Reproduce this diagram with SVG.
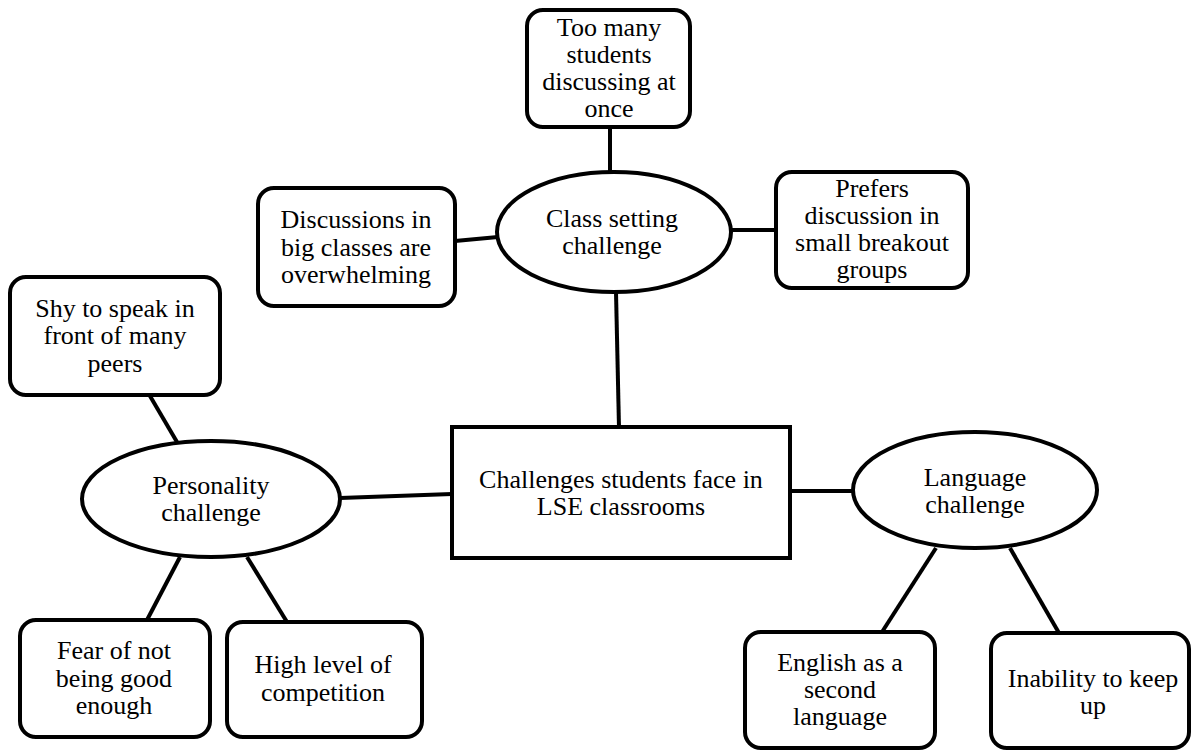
<svg xmlns="http://www.w3.org/2000/svg" width="1192" height="751" viewBox="0 0 1192 751">
<style>
.box{fill:#fff;stroke:#000;stroke-width:4}
.ell{fill:#fff;stroke:#000;stroke-width:4}
.ln{stroke:#000;stroke-width:4;fill:none}
.t{font-family:'Liberation Serif','Times New Roman',Times,Tinos,'Noto Serif','DejaVu Serif','Nimbus Roman',FreeSerif,serif;font-size:26px;fill:#000;text-anchor:middle}
</style>
<rect width="1192" height="751" fill="#fff"/>
<g id="connectors">
<line class="ln" x1="610" y1="127" x2="610" y2="172"/>
<line class="ln" x1="455" y1="241" x2="498" y2="237"/>
<line class="ln" x1="731" y1="230" x2="776" y2="230"/>
<line class="ln" x1="616" y1="292" x2="619" y2="428"/>
<line class="ln" x1="340" y1="498" x2="452" y2="494"/>
<line class="ln" x1="150" y1="396" x2="177" y2="442"/>
<line class="ln" x1="180" y1="557" x2="147" y2="620"/>
<line class="ln" x1="247" y1="557" x2="287" y2="622"/>
<line class="ln" x1="790" y1="491" x2="853" y2="491"/>
<line class="ln" x1="936" y1="548" x2="882" y2="632"/>
<line class="ln" x1="1010" y1="548" x2="1059" y2="633"/>
</g>
<g id="center">
<rect class="box" x="452" y="427" width="338" height="131"/>
<text class="t" x="621" y="488">Challenges students face in</text>
<text class="t" x="621" y="515">LSE classrooms</text>
</g>
<g id="class-setting">
<ellipse class="ell" cx="614" cy="232" rx="117" ry="60"/>
<text class="t" x="612" y="227">Class setting</text>
<text class="t" x="612" y="254">challenge</text>
</g>
<g id="too-many">
<rect class="box" x="527" y="10" width="163" height="117" rx="16"/>
<text class="t" x="609" y="36">Too many</text>
<text class="t" x="609" y="63">students</text>
<text class="t" x="609" y="90">discussing at</text>
<text class="t" x="609" y="117">once</text>
</g>
<g id="discussions-big">
<rect class="box" x="258" y="188" width="197" height="118" rx="16"/>
<text class="t" x="356" y="228">Discussions in</text>
<text class="t" x="356" y="256">big classes are</text>
<text class="t" x="356" y="283">overwhelming</text>
</g>
<g id="prefers">
<rect class="box" x="776" y="172" width="192" height="116" rx="16"/>
<text class="t" x="872" y="197">Prefers</text>
<text class="t" x="872" y="224">discussion in</text>
<text class="t" x="872" y="251">small breakout</text>
<text class="t" x="872" y="278">groups</text>
</g>
<g id="personality">
<ellipse class="ell" cx="211" cy="499" rx="129" ry="58"/>
<text class="t" x="211" y="494">Personality</text>
<text class="t" x="211" y="521">challenge</text>
</g>
<g id="shy">
<rect class="box" x="10" y="277" width="210" height="118" rx="16"/>
<text class="t" x="115" y="317">Shy to speak in</text>
<text class="t" x="115" y="344">front of many</text>
<text class="t" x="115" y="372">peers</text>
</g>
<g id="fear">
<rect class="box" x="20" y="620" width="190" height="117" rx="16"/>
<text class="t" x="114" y="659">Fear of not</text>
<text class="t" x="114" y="687">being good</text>
<text class="t" x="114" y="714">enough</text>
</g>
<g id="high-level">
<rect class="box" x="227" y="622" width="195" height="115" rx="16"/>
<text class="t" x="323" y="673">High level of</text>
<text class="t" x="323" y="701">competition</text>
</g>
<g id="language">
<ellipse class="ell" cx="975" cy="490" rx="122" ry="58"/>
<text class="t" x="975" y="486">Language</text>
<text class="t" x="975" y="513">challenge</text>
</g>
<g id="english">
<rect class="box" x="745" y="632" width="190" height="116" rx="16"/>
<text class="t" x="840" y="671">English as a</text>
<text class="t" x="840" y="698">second</text>
<text class="t" x="840" y="725">language</text>
</g>
<g id="inability">
<rect class="box" x="991" y="633" width="198" height="115" rx="16"/>
<text class="t" x="1093" y="687">Inability to keep</text>
<text class="t" x="1093" y="714">up</text>
</g>
</svg>
